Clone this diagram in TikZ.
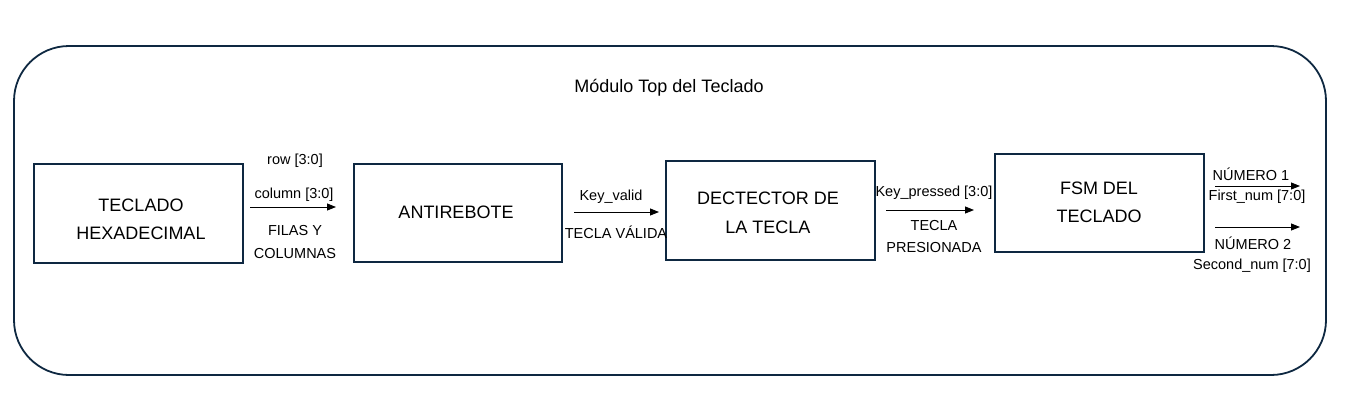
\documentclass[tikz,border=0pt]{standalone}
\usepackage{fontspec}
\setmainfont{Liberation Sans}
\usetikzlibrary{arrows.meta}
\definecolor{navy}{HTML}{0E2841}
\begin{document}
\begin{tikzpicture}[x=1pt,y=-1pt,
  blk/.style={draw=navy,line width=1.6pt,inner sep=0pt},
  lab/.style={font=\fontsize{18}{21}\selectfont,align=center,inner sep=0pt},
  sml/.style={font=\fontsize{14.5}{17}\selectfont,inner sep=0pt},
  sig/.style={draw=black,line width=0.9pt,-{Triangle[length=9pt,width=7pt]}}]
\useasboundingbox (0,0) rectangle (1347,407);
\draw[draw=navy,line width=1.8pt,rounded corners=55pt] (14,46) rectangle (1326,375);
\node[lab] (title) at (669,88) {Módulo Top del Teclado};
% blocks
\draw[blk] (34,164) rectangle (243,263);
\draw[blk] (354,164) rectangle (562,262);
\draw[blk] (666,161) rectangle (875,260);
\draw[blk] (995,154) rectangle (1204,252);
\node[lab] (t1a) at (141,205) {TECLADO};
\node[lab] (t1b) at (141,233) {HEXADECIMAL};
\node[lab] (t2) at (456,212) {ANTIREBOTE};
\node[lab] (t3a) at (768,198) {DECTECTOR DE};
\node[lab] (t3b) at (768,227) {LA TECLA};
\node[lab] (t4a) at (1099,188) {FSM DEL};
\node[lab] (t4b) at (1099,216) {TECLADO};
% arrows
\coordinate (a1s) at (250,207); \coordinate (a1e) at (336,207);
\draw[sig] (a1s) -- (a1e);
\node[sml] (l1a) at (295,161) {row [3:0]};
\node[sml] (l1b) at (294,195) {column [3:0]};
\node[sml] (l1c) at (295,231) {FILAS Y};
\node[sml] (l1d) at (295,254) {COLUMNAS};
\coordinate (a2s) at (574,212); \coordinate (a2e) at (659,212);
\draw[sig] (a2s) -- (a2e);
\node[sml] (l2a) at (611,197) {Key\_valid};
\node[sml] (l2b) at (616,232) {TECLA VÁLIDA};
\coordinate (a3s) at (886,210); \coordinate (a3e) at (974,210);
\draw[sig] (a3s) -- (a3e);
\node[sml] (l3a) at (934,193) {Key\_pressed [3:0]};
\node[sml] (l3b) at (934,226) {TECLA};
\node[sml] (l3c) at (934,248) {PRESIONADA};
\coordinate (a4s) at (1215,186); \coordinate (a4e) at (1300,186);
\draw[sig] (a4s) -- (a4e);
\node[sml] (l4a) at (1251,174) {NÚMERO 1};
\node[sml] (l4b) at (1257,197) {First\_num [7:0]};
\coordinate (a5s) at (1215,227); \coordinate (a5e) at (1300,227);
\draw[sig] (a5s) -- (a5e);
\node[sml] (l5a) at (1253,243) {NÚMERO 2};
\node[sml] (l5b) at (1252,266) {Second\_num [7:0]};
\end{tikzpicture}
\end{document}
